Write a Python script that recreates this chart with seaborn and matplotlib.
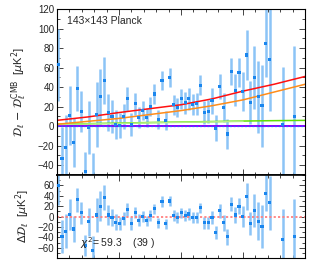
import numpy as np
import seaborn as sns
import matplotlib.pyplot as plt
import matplotlib.ticker as ticker

# binned multipoles
ell = [10, 41, 72, 103, 134, 165, 196, 227, 258, 289, 320, 351, 382, 413, 444,
       475, 506, 537, 568, 599, 630, 661, 692, 723, 754, 785, 816, 847, 878, 909,
       940, 971, 1002, 1033, 1064, 1095, 1126, 1157, 1188, 1219, 1250, 1281, 1312,
       1343, 1374, 1405, 1436, 1467, 1498, 1529, 1560, 1591, 1622, 1653, 1684,
       1715, 1820, 1913]
# D_l - D_l^CMB
dl_excess = [63, -33, -22, 11, -17, 39, 15, -46, -1, -56, 12, 30, 47, 14, 10,
             2, 1, 10, 28, 2, 23, 9, 16, 9, 20, 33, 7, 47, 6, 50,
             22, 19, 28, 24, 28, 22, 23, 42, 14, 15, 26, -2, 41,
             19, -8, 56, 37, 55, 36, 73, 24, 50, 30, 21, 85,
             68, 2, 10]
# residual after foreground model
residual = [59, -38, -28, 4, -24, 32, 7, -55, -10, -66, 3, 20, 37, 3, -2,
            -11, -13, -4, 14, -13, 8, -7, 0, -8, 2, 15, -12, 29, -14, 30,
            2, -2, 7, 2, 5, -2, -2, 17, -12, -12, -2, -31, 11,
            -12, -39, 24, 3, 20, 0, 38, -14, 12, -9, -19, 45,
            27, -44, -38]
errors = [37, 32, 33, 30, 25, 23, 21, 20, 27, 29, 33, 29, 24, 19, 17,
          15, 13, 13, 12, 12, 11, 11, 10, 10, 10, 10, 10, 10, 10, 10,
          10, 10, 10, 11, 11, 11, 11, 10, 12, 12, 13, 13, 13,
          15, 15, 14, 16, 15, 20, 26, 22, 32, 37, 42, 35,
          52, 59, 72]

# foreground model components
model_ell = [0, 250, 500, 750, 1000, 1250, 1500, 1750, 2000]
total_fg = [6, 9.5, 14, 18, 22, 28, 36, 43, 51]
ps_fg = [2, 5, 8, 12, 16, 21, 27, 35, 43]
cib_fg = [2, 2.6, 3.2, 3.8, 4.3, 4.8, 5.3, 5.7, 6]
lite_ell = [0, 250, 500, 750, 1000, 1250, 1500]
lite_fg = [1.8, 2.3, 2.9, 3.5, 4.0, 4.5, 5.0]
sz_fg = [0, 0, 0, 0, 0, 0, 0, 0, 0]

upper_ticks = [-40, -20, 0, 20, 40, 60, 80, 100, 120]
lower_ticks = [-60, -40, -20, 0, 20, 40, 60]
chi2_text = r'$\chi^2$= 59.3    (39 )'

sns.set_style('ticks')
plt.rcParams['font.family'] = ['Liberation Sans', 'DejaVu Sans']
plt.rcParams['mathtext.fontset'] = 'dejavusans'

fig = plt.figure(figsize=(3.11, 2.65), dpi=100)
ax1 = fig.add_axes([0.183, 0.3396, 0.798, 0.626])
ax2 = fig.add_axes([0.183, 0.026, 0.798, 0.3136])

bar_col = '#8cc4f6'
pt_col = '#1a86ee'

# upper panel
ax1.errorbar(ell, dl_excess, yerr=errors, fmt='none', ecolor=bar_col,
             elinewidth=1.8, capsize=0, zorder=1)
sns.lineplot(x=model_ell, y=sz_fg, color='#8a00ff', lw=1.4, ax=ax1, zorder=2)
ax1.axhline(0, color='#2f5bff', lw=0.9, ls=(0, (1.5, 1.5)), zorder=2.1)
sns.lineplot(x=model_ell, y=cib_fg, color='#5fe000', lw=1.1, ax=ax1, zorder=2)
sns.lineplot(x=lite_ell, y=lite_fg, color='#b4ef86', lw=1.1, ax=ax1, zorder=2.2)
sns.lineplot(x=model_ell, y=ps_fg, color='#ff8c1a', lw=1.1, ax=ax1, zorder=2.3)
sns.lineplot(x=model_ell, y=total_fg, color='#ff1010', lw=1.1, ax=ax1, zorder=2.4)
sns.scatterplot(x=ell, y=dl_excess, marker='s', s=5, color=pt_col,
                edgecolor='none', ax=ax1, zorder=3)
ax1.set_ylim(-50, 120)
ax1.set_ylabel(r'$\mathcal{D}_\ell\,-\,\mathcal{D}_\ell^{\rm CMB}$  [$\mu$K$^2$]',
               fontsize=8, labelpad=6)
ax1.text(0.04, 0.93, '143×143 Planck', transform=ax1.transAxes,
         fontsize=7.5, va='center', ha='left')
ax1.yaxis.set_major_locator(ticker.FixedLocator(upper_ticks))
ax1.yaxis.set_minor_locator(ticker.MultipleLocator(10))

# lower panel
ax2.errorbar(ell, residual, yerr=errors, fmt='none', ecolor=bar_col,
             elinewidth=1.8, capsize=0, zorder=1)
ax2.axhline(0, color='#ff8080', lw=1.3, ls=(0, (1.2, 1.2)), zorder=2)
sns.scatterplot(x=ell, y=residual, marker='s', s=5, color=pt_col,
                edgecolor='none', ax=ax2, zorder=3)
ax2.set_ylim(-80, 80)
ax2.set_ylabel(r'$\Delta\mathcal{D}_\ell$  [$\mu$K$^2$]', fontsize=8, labelpad=4)
ax2.text(0.095, 0.18, chi2_text, transform=ax2.transAxes,
         fontsize=7.5, va='center', ha='left')
ax2.yaxis.set_major_locator(ticker.FixedLocator(lower_ticks))
ax2.yaxis.set_minor_locator(ticker.MultipleLocator(10))

for ax in (ax1, ax2):
    ax.set_xlim(0, 2000)
    ax.xaxis.set_major_locator(ticker.MultipleLocator(500))
    ax.xaxis.set_minor_locator(ticker.MultipleLocator(100))
    ax.tick_params(which='both', direction='in', top=True, right=True,
                   labelbottom=False, labelsize=7, width=0.6, pad=2)
    ax.tick_params(which='major', length=4)
    ax.tick_params(which='minor', length=2)
    ax.set_xlabel('')
    for s in ax.spines.values():
        s.set_linewidth(0.8)
        s.set_color('black')
ax1.spines['bottom'].set_linewidth(1.2)
ax2.spines['top'].set_linewidth(1.2)

fig.savefig('out.png', dpi=100)
